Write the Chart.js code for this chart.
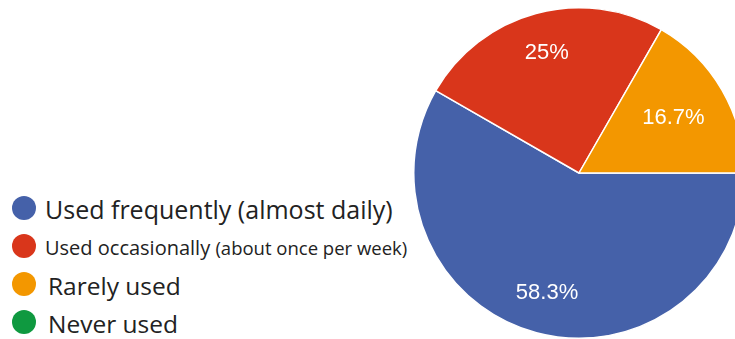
<!DOCTYPE html>
<html>
<head>
<meta charset="utf-8">
<script src="https://cdn.jsdelivr.net/npm/chart.js@4/dist/chart.umd.min.js"></script>
<style>
  html, body { margin: 0; padding: 0; background: #fff; overflow: hidden; }
  body { width: 735px; height: 339px; position: relative; }
  #pie { position: absolute; left: 413px; top: 7px; }
  #legend { position: absolute; left: 0; top: 0; font-family: "Open Sans", sans-serif; color: #222; }
  .item { position: absolute; left: 12px; height: 30px; line-height: 30px; white-space: nowrap; display: flex; align-items: center; }
  .dot { width: 24px; height: 24px; border-radius: 50%; margin-right: 9px; flex: none; }
  .txt { position: relative; }
  .small { font-size: 18.5px; }
</style>
</head>
<body>
<canvas id="pie" width="332" height="332"></canvas>
<div id="legend"></div>
<script>
(function () {
  "use strict";

  // ── Data ────────────────────────────────────────

  var labels = [
    "Used frequently (almost daily)",
    "Used occasionally (about once per week)",
    "Rarely used",
    "Never used"
  ];
  var shares = [58.3, 25, 16.7, 0];
  var colors = ["#4561a9", "#d9361b", "#f39700", "#0f9940"];

  // ── Legend (mixed type sizes, so plain HTML) ────

  var legendRows = [
    { top: 193, size: 25, gap: 9, shift: 1, main: "Used frequently (almost daily)", note: "" },
    { top: 231, size: 20, gap: 9, shift: 2, main: "Used occasionally ", note: "(about once per week)" },
    { top: 269, size: 24.5, gap: 12, shift: 2, main: "Rarely used", note: "" },
    { top: 307, size: 24.5, gap: 12, shift: 2, main: "Never used", note: "" }
  ];
  var $legend = document.getElementById("legend");
  legendRows.forEach(function (row, i) {
    var el = document.createElement("div");
    el.className = "item";
    el.style.top = row.top + "px";
    el.style.fontSize = row.size + "px";
    var dot = document.createElement("span");
    dot.className = "dot";
    dot.style.background = colors[i];
    dot.style.marginRight = row.gap + "px";
    el.appendChild(dot);
    var txt = document.createElement("span");
    txt.className = "txt";
    txt.style.top = row.shift + "px";
    txt.textContent = row.main;
    if (row.note) {
      var s = document.createElement("span");
      s.className = "small";
      s.textContent = row.note;
      txt.appendChild(s);
    }
    el.appendChild(txt);
    $legend.appendChild(el);
  });

  // ── Slice labels ────────────────────────────────

  var labelRadius = [0.75, 0.75, 0.66, 0.7];
  var sliceLabels = {
    id: "sliceLabels",
    afterDatasetsDraw: function (chart) {
      var ctx = chart.ctx;
      var arcs = chart.getDatasetMeta(0).data;
      ctx.save();
      ctx.fillStyle = "#fff";
      ctx.font = "22px 'Liberation Sans', Arial, sans-serif";
      ctx.textAlign = "center";
      ctx.textBaseline = "middle";
      arcs.forEach(function (arc, i) {
        if (!shares[i]) return;
        var p = arc.getProps(["x", "y", "startAngle", "endAngle", "outerRadius"], true);
        var mid = (p.startAngle + p.endAngle) / 2;
        var r = p.outerRadius * labelRadius[i];
        ctx.fillText(shares[i] + "%", p.x + Math.cos(mid) * r, p.y + Math.sin(mid) * r);
      });
      ctx.restore();
    }
  };

  // ── Chart ───────────────────────────────────────

  new Chart(document.getElementById("pie"), {
    type: "pie",
    data: {
      labels: labels,
      datasets: [{
        data: shares,
        backgroundColor: colors,
        borderColor: "#fff",
        borderWidth: 1.5
      }]
    },
    options: {
      responsive: false,
      animation: false,
      rotation: 90,
      layout: { padding: 0 },
      plugins: { legend: { display: false }, tooltip: { enabled: false } }
    },
    plugins: [sliceLabels]
  });
})();
</script>
</body>
</html>
